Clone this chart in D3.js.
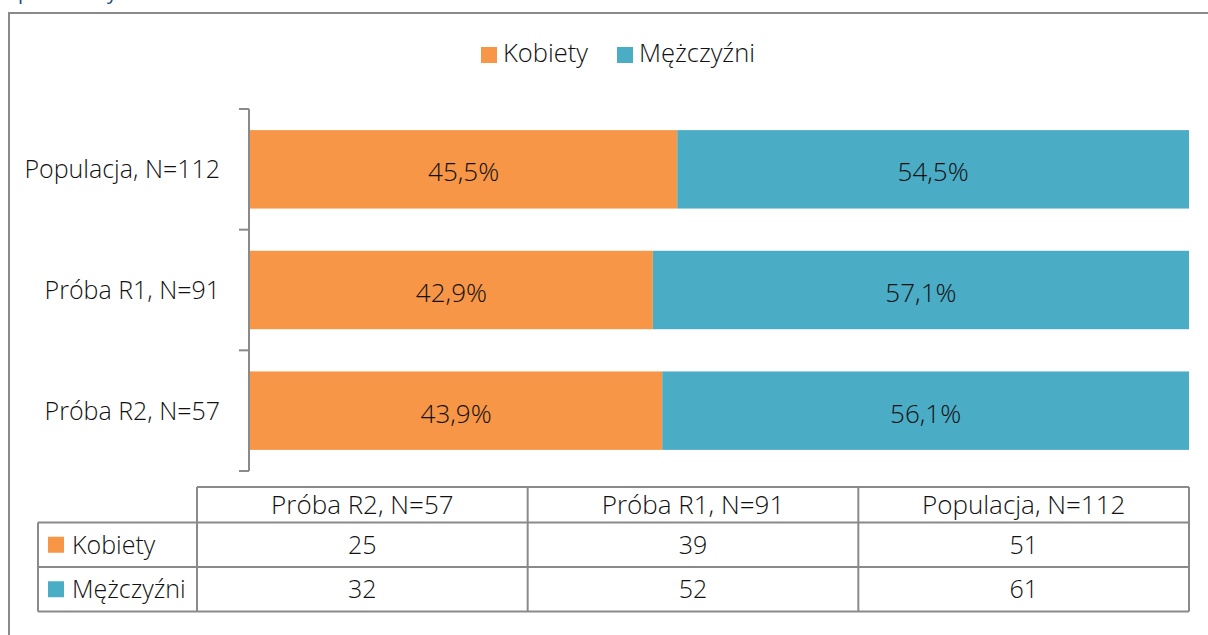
<!DOCTYPE html>
<html>
<head>
<meta charset="utf-8">
<script src="https://cdn.jsdelivr.net/npm/d3@7"></script>
<style>
  html, body { margin: 0; padding: 0; background: #fff; overflow: hidden; }
  svg { display: block; font-family: "Open Sans", "Noto Sans", sans-serif; font-weight: 300; }
</style>
</head>
<body>
<script>
// data
const categories = ['Populacja, N=112', 'Próba R1, N=91', 'Próba R2, N=57'];
const seriesNames = ['Kobiety', 'Mężczyźni'];
const womenShare = [45.5, 42.9, 43.9];
const menShare = [54.5, 57.1, 56.1];
const tableColumns = ['Próba R2, N=57', 'Próba R1, N=91', 'Populacja, N=112'];
const womenCount = [25, 39, 51];
const menCount = [32, 52, 61];

const colors = ['#f79646', '#4bacc6'];
const gridColor = '#8a8a8a';
const textColor = '#111';
const fontSize = 25;

const width = 1208;
const height = 635;

const plotLeft = 250;
const plotRight = 1189;
const plotTop = 109;
const plotBottom = 471;

const tableLeft = 38;
const tableColLeft = 197;
const tableTop = 487;
const headerBottom = 522.5;
const rowHeight = 44.5;

const pl = d3.formatLocale({decimal: ',', thousands: ' ', grouping: [3], currency: ['', '']});
const pct = v => pl.format('.1f')(v) + '%';

const svg = d3.select('body')
              .append('svg')
              .attr('width', width)
              .attr('height', height);

// title line cut off at the top of the picture
svg.append('text')
   .text('płeć osoby')
   .attr('x', 18)
   .attr('y', -1)
   .attr('font-size', 20)
   .attr('font-weight', 400)
   .attr('fill', '#1f497d');

// outer frame
svg.append('path')
   .attr('d', 'M9,' + height + 'V13H' + width)
   .attr('fill', 'none')
   .attr('stroke', gridColor)
   .attr('stroke-width', 2);

// scales
const x = d3.scaleLinear()
            .domain([0, 100])
            .range([plotLeft, plotRight]);

const y = d3.scaleBand()
            .domain(categories)
            .range([plotTop, plotBottom])
            .paddingInner(0.35)
            .paddingOuter(0.175);

const stackData = categories.map((c, i) => ({cat: c, Kobiety: womenShare[i], 'Mężczyźni': menShare[i]}));
const stacked = d3.stack().keys(seriesNames)(stackData);

// bars
const layers = svg.selectAll('g.layer')
                  .data(stacked)
                  .enter()
                  .append('g')
                  .attr('class', 'layer')
                  .attr('fill', (d, i) => colors[i]);

layers.selectAll('rect')
      .data(d => d)
      .enter()
      .append('rect')
      .attr('x', d => x(d[0]))
      .attr('y', d => y(d.data.cat))
      .attr('width', d => x(d[1]) - x(d[0]))
      .attr('height', y.bandwidth());

layers.selectAll('text')
      .data(d => d)
      .enter()
      .append('text')
      .text(d => pct(d[1] - d[0]))
      .attr('x', d => (x(d[0]) + x(d[1])) / 2)
      .attr('y', d => y(d.data.cat) + y.bandwidth() / 2 + 12)
      .attr('text-anchor', 'middle')
      .attr('font-size', 26)
      .attr('fill', textColor);

// category axis
const step = y.step();
const bounds = categories.map(c => y(c) - step * y.paddingInner() / 2).concat([plotBottom]);

svg.append('line')
   .attr('x1', plotLeft - 1)
   .attr('x2', plotLeft - 1)
   .attr('y1', plotTop)
   .attr('y2', plotBottom)
   .attr('stroke', gridColor)
   .attr('stroke-width', 2);

svg.selectAll('line.tick')
   .data(bounds)
   .enter()
   .append('line')
   .attr('class', 'tick')
   .attr('x1', plotLeft - 11)
   .attr('x2', plotLeft - 1)
   .attr('y1', d => d)
   .attr('y2', d => d)
   .attr('stroke', gridColor)
   .attr('stroke-width', 2);

svg.selectAll('text.cat')
   .data(categories)
   .enter()
   .append('text')
   .attr('class', 'cat')
   .text(d => d)
   .attr('x', 220)
   .attr('y', d => y(d) + y.bandwidth() / 2 + 9)
   .attr('text-anchor', 'end')
   .attr('font-size', fontSize)
   .attr('fill', textColor);

// legend
const legendItems = [{name: seriesNames[0], x: 481}, {name: seriesNames[1], x: 617}];

const legend = svg.selectAll('g.legend')
                  .data(legendItems)
                  .enter()
                  .append('g')
                  .attr('class', 'legend')
                  .attr('transform', d => 'translate(' + d.x + ',47)');

legend.append('rect')
      .attr('width', 16)
      .attr('height', 16)
      .attr('fill', (d, i) => colors[i]);

legend.append('text')
      .text(d => d.name)
      .attr('x', 22)
      .attr('y', 15)
      .attr('font-size', 25.5)
      .attr('fill', textColor);

// data table
const col = d3.scaleBand()
              .domain(tableColumns)
              .range([tableColLeft, plotRight]);

const rows = [
  {name: seriesNames[0], values: womenCount},
  {name: seriesNames[1], values: menCount}
];

const tableBottom = headerBottom + rowHeight * rows.length;
const grid = svg.append('g')
                .attr('stroke', gridColor)
                .attr('stroke-width', 2)
                .attr('fill', 'none');

// horizontal lines
grid.append('line').attr('x1', tableColLeft).attr('x2', plotRight).attr('y1', tableTop).attr('y2', tableTop);
d3.range(rows.length + 1).forEach(i => {
  grid.append('line')
      .attr('x1', tableLeft)
      .attr('x2', plotRight)
      .attr('y1', headerBottom + rowHeight * i)
      .attr('y2', headerBottom + rowHeight * i);
});

// vertical lines
grid.append('line').attr('x1', tableLeft).attr('x2', tableLeft).attr('y1', headerBottom).attr('y2', tableBottom);
tableColumns.concat([null]).forEach((c, i) => {
  const xx = c === null ? plotRight : col(c);
  grid.append('line')
      .attr('x1', xx)
      .attr('x2', xx)
      .attr('y1', tableTop)
      .attr('y2', tableBottom);
});

svg.selectAll('text.colhead')
   .data(tableColumns)
   .enter()
   .append('text')
   .attr('class', 'colhead')
   .text(d => d)
   .attr('x', d => col(d) + col.bandwidth() / 2)
   .attr('y', (tableTop + headerBottom) / 2 + 9.5)
   .attr('text-anchor', 'middle')
   .attr('font-size', 26)
   .attr('fill', textColor);

const rowG = svg.selectAll('g.row')
                .data(rows)
                .enter()
                .append('g')
                .attr('class', 'row')
                .attr('transform', (d, i) => 'translate(0,' + (headerBottom + rowHeight * i) + ')');

rowG.append('rect')
    .attr('x', 48)
    .attr('y', rowHeight / 2 - 8)
    .attr('width', 16)
    .attr('height', 16)
    .attr('fill', (d, i) => colors[i]);

rowG.append('text')
    .text(d => d.name)
    .attr('x', 72)
    .attr('y', rowHeight / 2 + 9)
    .attr('font-size', fontSize)
    .attr('fill', textColor);

rowG.selectAll('text.val')
    .data(d => d.values)
    .enter()
    .append('text')
    .attr('class', 'val')
    .text(d => d)
    .attr('x', (d, i) => col(tableColumns[i]) + col.bandwidth() / 2)
    .attr('y', rowHeight / 2 + 9)
    .attr('text-anchor', 'middle')
    .attr('font-size', fontSize)
    .attr('fill', textColor);
</script>
</body>
</html>
